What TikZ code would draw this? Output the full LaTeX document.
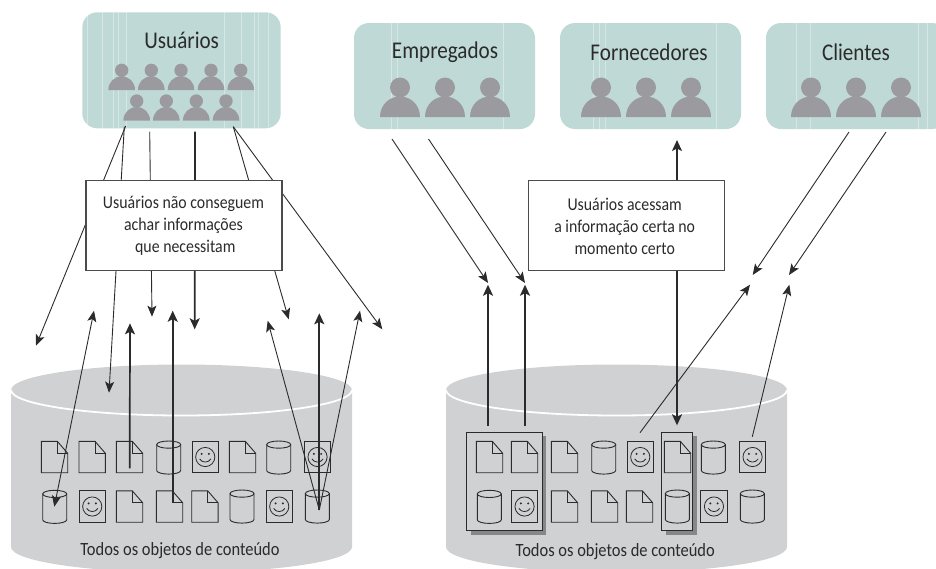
\documentclass[tikz,border=0pt]{standalone}
\usepackage{fontspec}
\setmainfont[FakeStretch=0.88]{Carlito}
\usetikzlibrary{arrows.meta}
\definecolor{teal1}{HTML}{BFDAD6}
\definecolor{cyl}{HTML}{D0D1D3}
\definecolor{pers}{HTML}{9B9B9F}
\definecolor{ink}{HTML}{2B2B2B}
\definecolor{shad}{HTML}{87878B}
\tikzset{
  x=1pt,y=-1pt,
  icon/.style={draw=ink,line width=.9pt,line join=miter},
  groupbox/.style={draw=none,fill=teal1,rounded corners=15pt},
  stripe/.style={draw=white,opacity=.35,line width=.8pt},
  title/.style={font=\fontsize{24}{24}\selectfont,text=ink,inner sep=0pt},
  infobox/.style={draw=ink!85,line width=1.1pt,fill=white,align=center,inner sep=0pt,text=ink,font=\fontsize{18}{22}\selectfont},
  baselabel/.style={font=\fontsize{18.7}{20}\selectfont,text=ink,inner sep=0pt},
  thinarrow/.style={draw=ink,line width=.9pt,-{Stealth[length=11pt,width=9pt,inset=2.5pt]}},
  thickarrow/.style={draw=ink,line width=1.7pt,-{Stealth[length=11pt,width=10pt,inset=2.5pt]}},
  bothends/.style={draw=ink,line width=.9pt,{Stealth[length=11pt,width=9pt,inset=2.5pt]}-{Stealth[length=11pt,width=9pt,inset=2.5pt]}},
  pics/person/.style={code={
    \fill[pers] (-20,0) .. controls (-20,-12) and (-11,-20.5) .. (0,-20.5) .. controls (11,-20.5) and (20,-12) .. (20,0) -- cycle;
    \fill[pers] (0,-29.5) circle[radius=10];
  }},
  pics/docicon/.style={code={
    \draw[icon] (0,0) -- (16,0) -- (26.4,12) -- (26.4,31.4) -- (0,31.4) -- cycle;
    \draw[icon] (16,0) -- (16,12) -- (26.4,12);
  }},
  pics/cylicon/.style={code={
    \draw[icon] (0,3.6) -- (0,29.5) arc[start angle=180,end angle=0,x radius=12,y radius=3.6] -- (24,3.6);
    \draw[icon] (12,3.6) ellipse[x radius=12,y radius=3.6];
  }},
  pics/smileicon/.style={code={
    \draw[icon] (0,0) rectangle (26.5,31.4);
    \draw[draw=ink,line width=.8pt] (13.25,15.7) circle[radius=9.6];
    \fill[ink] (9.6,12.6) circle[radius=1.1] (16.9,12.6) circle[radius=1.1];
    \draw[draw=ink,line width=.8pt] (7.6,17.6) .. controls (10,21.8) and (16.5,21.8) .. (18.9,17.6);
  }},
  pics/drum/.style={code={
    \fill[cyl] (0,0) -- (0,157) arc[start angle=180,end angle=360,x radius=170.5,y radius=-25.5] -- (341,0) -- cycle;
    \fill[cyl] (170.5,0) ellipse[x radius=170.5,y radius=25.5];
    \draw[white,line width=1.8pt] (0,0) arc[start angle=180,end angle=360,x radius=170.5,y radius=-25.5];
  }}
}
\begin{document}
\begin{tikzpicture}
\useasboundingbox (0,0) rectangle (936,568);
\clip (0,0) rectangle (936,568);

% content stores
\pic at (11,390) {drum};
\pic at (446,390) {drum};

% left store icons
\pic at (41.3,441.3) {docicon};
\pic at (79,441.3) {docicon};
\pic at (116.3,441.3) {docicon};
\pic at (156.7,441) {cylicon};
\pic at (192,441.3) {smileicon};
\pic at (229.3,441.3) {docicon};
\pic at (266.7,441) {cylicon};
\pic at (304.3,441.3) {smileicon};
\pic at (42.7,490.3) {cylicon};
\pic at (79,490.8) {smileicon};
\pic at (116.3,490.8) {docicon};
\pic at (156.3,490.8) {docicon};
\pic at (191.7,490.8) {docicon};
\pic at (230,490) {cylicon};
\pic at (266,490.8) {smileicon};
\pic at (305.3,490) {cylicon};

% right store: selections
\fill[shad] (470.5,436) rectangle (546,534.5);
\fill[shad] (665.5,436) rectangle (696.5,534.5);
\node[draw=ink,line width=.9pt,fill=cyl,minimum width=75.6pt,minimum height=98.4pt,inner sep=0pt] (sel1) at (504.5,481.5) {};
\node[draw=ink,line width=.9pt,fill=cyl,minimum width=31pt,minimum height=98.4pt,inner sep=0pt] (sel2) at (677.2,481.5) {};

% right store icons
\pic at (476.3,441.3) {docicon};
\pic at (511.3,441.3) {docicon};
\pic at (551.3,441.3) {docicon};
\pic at (591.7,441) {cylicon};
\pic at (627,441.3) {smileicon};
\pic at (664.3,441.3) {docicon};
\pic at (701.3,441) {cylicon};
\pic at (739.3,441.3) {smileicon};
\pic at (477.3,490.3) {cylicon};
\pic at (511.3,490.8) {smileicon};
\pic at (551.3,490.8) {docicon};
\pic at (591.3,490.8) {docicon};
\pic at (626.3,490.8) {docicon};
\pic at (665.3,490) {cylicon};
\pic at (700.7,490.8) {smileicon};
\pic at (740.3,490) {cylicon};

\node[baselabel] (storeL) at (180,551) {Todos os objetos de conteúdo};
\node[baselabel] (storeR) at (615.3,551.5) {Todos os objetos de conteúdo};

% group boxes
\fill[groupbox] (82.3,12.3) rectangle (280.7,128.3);
\fill[groupbox] (354,23) rectangle (535,129);
\fill[groupbox] (560,23) rectangle (741,129);
\fill[groupbox] (766,23) rectangle (947,129);
\foreach \sx in {87,102,113,118,126,224,241,254,258,268}
  \draw[stripe] (\sx,12.3) -- (\sx,128.3);
\foreach \sx in {391,397,503}
  \draw[stripe] (\sx,23) -- (\sx,129);
\foreach \sx in {593,599,605,716}
  \draw[stripe] (\sx,23) -- (\sx,129);
\foreach \sx in {796,810,918,927}
  \draw[stripe] (\sx,23) -- (\sx,129);

\node[title] (tU) at (181.7,40.5) {Usuários};
\node[title] (tE) at (445,52) {Empregados};
\node[title] (tF) at (649,52) {Fornecedores};
\node[title] (tC) at (856,52) {Clientes};

\foreach \px in {121.7,151.3,181,211,240.7}
  \pic[scale=.667] at (\px,90) {person};
\foreach \px in {136.7,166.3,196.3,226}
  \pic[scale=.667] at (\px,120.7) {person};
\foreach \px in {400,445,490,601,646,691,811,856,901}
  \pic at (\px,117) {person};

% connector ends
\coordinate (ua) at (125.7,126);
\coordinate (ub) at (124.3,126.7);
\coordinate (uc) at (149.7,131.7);
\coordinate (ud) at (195,131.7);
\coordinate (ue) at (233.3,126.7);
\coordinate (ta) at (36,345.7);
\coordinate (tb) at (109,392.7);
\coordinate (tc) at (152,316.7);
\coordinate (td) at (194.7,329.3);
\coordinate (te) at (288.7,319.3);
\coordinate (tf) at (382.3,329.3);
\coordinate (ga) at (94,310.7);
\coordinate (gb) at (54.3,506.7);
\coordinate (ha) at (129.7,468.3);
\coordinate (hb) at (130,323.3);
\coordinate (ia) at (172.7,501.7);
\coordinate (ib) at (172.7,310.7);
\coordinate (js) at (319.3,510);
\coordinate (jt) at (267.7,320.7);
\coordinate (kt) at (319.3,313.3);
\coordinate (lt) at (360,310.7);
\coordinate (ea) at (392,139);
\coordinate (eat) at (488,283);
\coordinate (eb) at (428.5,139);
\coordinate (ebt) at (525,283);
\coordinate (ra) at (488,425.7);
\coordinate (rat) at (488,284.7);
\coordinate (rb) at (525,425.7);
\coordinate (rbt) at (525,284.7);
\coordinate (ft) at (677,140);
\coordinate (dt) at (677,425.3);
\coordinate (ca) at (849,132);
\coordinate (cat) at (752.7,275);
\coordinate (cb) at (886,132);
\coordinate (cbt) at (789,275);
\coordinate (sa) at (640,432.7);
\coordinate (sat) at (750,284.7);
\coordinate (sb) at (752.3,436.7);
\coordinate (sbt) at (789.3,284.7);

% left connectors
\draw[thinarrow] (ua) -- (ta);
\draw[thinarrow] (ub) -- (tb);
\draw[thinarrow] (uc) -- (tc);
\draw[thickarrow] (ud) -- (td);
\draw[thinarrow] (ue) -- (te);
\draw[thinarrow] (ue) -- (tf);
\draw[bothends] (ga) -- (gb);
\draw[thickarrow] (ha) -- (hb);
\draw[thickarrow] (ia) -- (ib);
\draw[thinarrow] (js) -- (jt);
\draw[thickarrow] (js) -- (kt);
\draw[thinarrow] (js) -- (lt);

% right connectors
\draw[thinarrow] (ea) -- (eat);
\draw[thinarrow] (eb) -- (ebt);
\draw[thickarrow] (ra) -- (rat);
\draw[thickarrow] (rb) -- (rbt);
\draw[thinarrow] (ca) -- (cat);
\draw[thinarrow] (cb) -- (cbt);
\draw[thinarrow] (sa) -- (sat);
\draw[thinarrow] (sb) -- (sbt);

% information boxes
\node[infobox,minimum width=196pt,minimum height=90pt] (boxL) at (184,225.7) {};
\node[infobox,minimum width=196pt,minimum height=90pt] (boxR) at (626.7,225.7) {};
\node[infobox,draw=none,fill=none] at (183.5,226) {Usuários não conseguem\\achar informações\\\ que necessitam};
\node[infobox,draw=none,fill=none] at (624.7,226) {Usuários acessam\\a informação certa no\\momento certo};

\draw[thickarrow] (boxR.north -| ft) -- (ft);
\draw[thickarrow] (boxR.south -| dt) -- (dt);
\end{tikzpicture}
\end{document}
